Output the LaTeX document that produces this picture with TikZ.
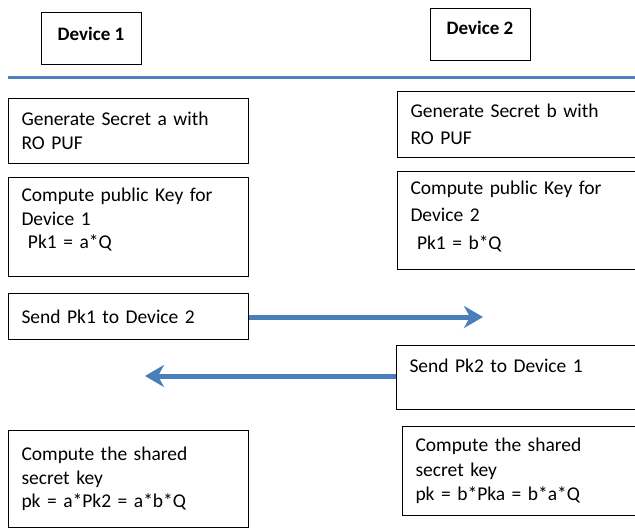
\documentclass[tikz,border=0pt]{standalone}
\usepackage{fontspec}
\setmainfont{Carlito}
\usetikzlibrary{arrows.meta}
\definecolor{lineblue}{HTML}{4F81BD}
\definecolor{arrowblue}{HTML}{4A7EBB}
\begin{document}
\begin{tikzpicture}[x=1pt,y=-1pt,
  stepbox/.style={draw=black, line width=1pt, anchor=north west, align=left,
    inner xsep=13pt, inner ysep=0pt, text width=300pt,
    font=\fontsize{19.5}{23.5}\selectfont},
  widebox/.style={stepbox, font=\fontsize{19.5}{27.5}\selectfont},
  devbox/.style={draw=black, line width=1pt, anchor=north west,
    inner sep=0pt, minimum width=100pt},
  devtext/.style={font=\fontsize{19}{23.5}\selectfont\bfseries},
  msg/.style={draw=arrowblue, line width=5pt,
    -{Stealth[length=19pt,width=22pt,inset=6pt]}}
]
\clip (0,0) rectangle (635,530);
\fill[white] (0,0) rectangle (635,530);

% device headers
\node[devbox, minimum height=52pt] (d1) at (41,12) {};
\node[devtext] (d1t) at (91,34) {Device 1};
\node[devbox, minimum height=52pt] (d2) at (430,8) {};
\node[devtext] (d2t) at (480,28) {Device 2};

% separator
\coordinate (sepL) at (8,77);
\coordinate (sepR) at (640,77);
\draw[lineblue, line width=3pt] (sepL) -- (sepR);

% device 1 column
\node[stepbox, text width=214pt, minimum height=65pt] (a1) at (8,98)
  {Generate Secret a with\\RO PUF};
\node[stepbox, text width=214pt, minimum height=99pt] (a2) at (8,177)
  {Compute public Key for\\Device 1\\\ Pk1 = a*Q\\[-6pt]\mbox{}};
\node[stepbox, text width=214pt, minimum height=46pt] (a3) at (8,293)
  {Send Pk1 to Device 2};
\node[stepbox, text width=214pt, minimum height=97pt] (a4) at (8,430)
  {Compute the shared\\secret key\\pk = a*Pk2 = a*b*Q};

% device 2 column
\node[widebox, minimum height=66pt] (b1) at (397,91)
  {Generate Secret b with\\RO PUF};
\node[widebox, minimum height=98pt] (b2) at (397,171)
  {Compute public Key for\\Device 2\\\ Pk1 = b*Q\\[-16.5pt]\mbox{}};
\node[stepbox, minimum height=64pt] (b3) at (396,345)
  {Send Pk2 to Device 1\\\mbox{}};
\node[stepbox, minimum height=89pt, font=\fontsize{19.5}{24.5}\selectfont] (b4) at (402,426)
  {Compute the shared\\secret key\\pk = b*Pka = b*a*Q};

% messages
\coordinate (r1) at (483,317);
\coordinate (l1) at (145,376);
\draw[msg] (a3.east |- r1) -- (r1);
\draw[msg] (b3.west |- l1) -- (l1);
\end{tikzpicture}
\end{document}
